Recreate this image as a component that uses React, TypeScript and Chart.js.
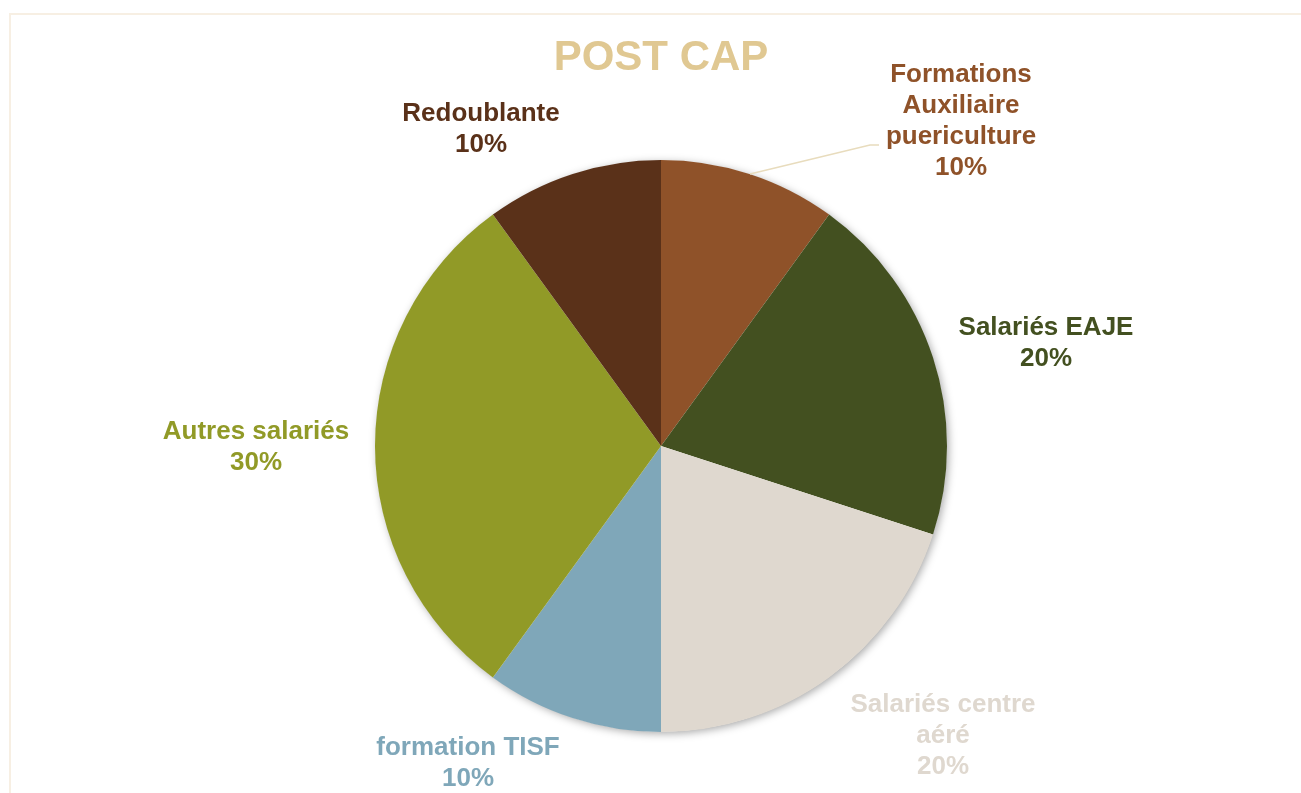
import React, { useEffect, useRef } from "react";
import { Chart, registerables } from "chart.js";

Chart.register(...registerables);

const titleText = "POST CAP";
const categories = [
  "Formations Auxiliaire puericulture",
  "Salariés EAJE",
  "Salariés centre aéré",
  "formation TISF",
  "Autres salariés",
  "Redoublante",
];
const values = [10, 20, 20, 10, 30, 10];
const colors = ["#8f5229", "#435020", "#dfd8cf", "#7fa7b9", "#919a27", "#5a3119"];
const labelLines = [
  ["Formations", "Auxiliaire", "puericulture", "10%"],
  ["Salariés EAJE", "20%"],
  ["Salariés centre", "aéré", "20%"],
  ["formation TISF", "10%"],
  ["Autres salariés", "30%"],
  ["Redoublante", "10%"],
];
// centre of the first text line of each slice's label (canvas px)
const labelPos = [
  [961, 75],
  [1046, 328],
  [943, 705],
  [468, 748],
  [256, 432],
  [481, 114],
];

const FONT = "'Liberation Sans', Arial, sans-serif";

const decorPlugin = {
  id: "decor",
  beforeDraw(chart: any) {
    const ctx = chart.ctx;
    ctx.save();
    ctx.fillStyle = "#ffffff";
    ctx.fillRect(0, 0, chart.width, chart.height);
    ctx.strokeStyle = "#f7efe3";
    ctx.lineWidth = 2;
    ctx.strokeRect(10, 14, chart.width + 20, chart.height + 20);
    ctx.restore();
  },
  beforeDatasetsDraw(chart: any) {
    const meta = chart.getDatasetMeta(0);
    const arc = meta.data[0];
    if (!arc) return;
    const ctx = chart.ctx;
    ctx.save();
    ctx.shadowColor = "rgba(0,0,0,0.35)";
    ctx.shadowBlur = 8;
    ctx.shadowOffsetX = 2;
    ctx.shadowOffsetY = 2;
    ctx.fillStyle = "#ffffff";
    ctx.beginPath();
    ctx.arc(arc.x, arc.y, arc.outerRadius - 0.5, 0, Math.PI * 2);
    ctx.fill();
    ctx.restore();
  },
  afterDatasetsDraw(chart: any) {
    const ctx = chart.ctx;
    const meta = chart.getDatasetMeta(0);
    const arc = meta.data[0];
    ctx.save();
    ctx.fillStyle = "#e0c892";
    ctx.font = `bold 42px ${FONT}`;
    ctx.textAlign = "center";
    ctx.textBaseline = "middle";
    ctx.fillText(titleText, arc ? arc.x : chart.width / 2, 58);
    ctx.strokeStyle = "#e8dcbd";
    ctx.lineWidth = 1.5;
    ctx.beginPath();
    ctx.moveTo(750, 174);
    ctx.lineTo(870, 145);
    ctx.lineTo(879, 145);
    ctx.stroke();
    ctx.font = `bold 26px ${FONT}`;
    labelLines.forEach((lines, i) => {
      ctx.fillStyle = colors[i];
      const [x, y] = labelPos[i];
      lines.forEach((t, j) => {
        ctx.fillText(t, x, y + j * 31);
      });
    });
    ctx.restore();
  },
};

export default function App() {
  const ref = useRef<HTMLCanvasElement>(null);
  useEffect(() => {
    if (!ref.current) return;
    const chart = new Chart(ref.current, {
      type: "pie",
      data: {
        labels: categories,
        datasets: [
          {
            data: values,
            backgroundColor: colors,
            borderWidth: 0,
          },
        ],
      },
      options: {
        animation: false,
        responsive: false,
        layout: { padding: { left: 300, right: 279, top: 160, bottom: 61 } },
        plugins: {
          legend: { display: false },
          tooltip: { enabled: false },
          title: { display: false },
        },
      },
      plugins: [decorPlugin],
    });
    return () => chart.destroy();
  }, []);
  return (
    <div style={{ position: "fixed", left: 0, top: 0, width: 1301, height: 793, overflow: "hidden" }}>
      <canvas ref={ref} width={1301} height={793} style={{ display: "block" }} />
    </div>
  );
}
